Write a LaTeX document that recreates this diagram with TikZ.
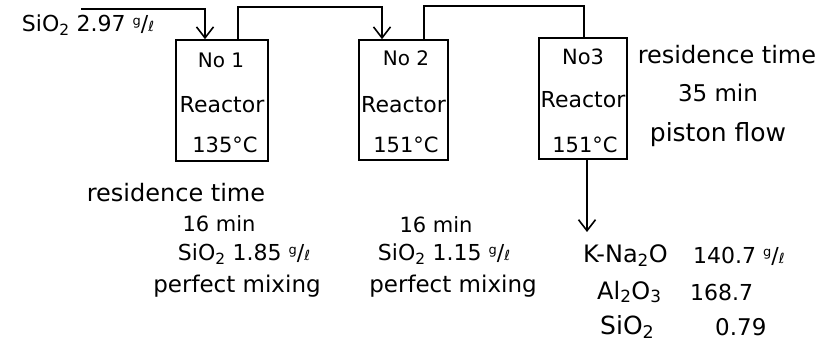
\documentclass[tikz,border=0pt]{standalone}
\usepackage{fontspec}
\setmainfont{DejaVu Sans}
\usetikzlibrary{arrows.meta}
\newcommand{\gpl}{\raisebox{0.28em}{\fontsize{13}{13}\selectfont g}/{\fontsize{14}{14}\selectfont ℓ}}
\newcommand{\fs}[1]{\fontsize{#1}{#1}\selectfont}
\begin{document}
\begin{tikzpicture}[x=1pt,y=-1pt,
  reactor/.style={draw, line width=1.6pt, inner sep=0pt},
  lbl/.style={font=\fs{23}, inner sep=0pt},
  flow/.style={line width=1.6pt},
  arr/.style={flow, -{Straight Barb[length=11pt,width=17pt,line width=1.6pt]}}]
\useasboundingbox (0,0) rectangle (838,347);
% reactors
\node[reactor, minimum width=92pt, minimum height=121pt] (b1) at (222,100.5) {};
\node[reactor, minimum width=89pt, minimum height=120pt] (b2) at (403.5,100) {};
\node[reactor, minimum width=88pt, minimum height=121pt] (b3) at (583,98.5) {};
% reactor texts
\node[lbl, font=\fs{20}] (b1a) at (221,60) {No 1};
\node[lbl, font=\fs{22}] (b1b) at (222,105) {Reactor};
\node[lbl, font=\fs{21}] (b1c) at (225,145) {135°C};
\node[lbl, font=\fs{20}] (b2a) at (406,58) {No 2};
\node[lbl, font=\fs{22}] (b2b) at (403.5,105) {Reactor};
\node[lbl, font=\fs{21}] (b2c) at (406,145) {151°C};
\node[lbl, font=\fs{21}] (b3a) at (583,57) {No3};
\node[lbl, font=\fs{22}] (b3b) at (583,100) {Reactor};
\node[lbl, font=\fs{21}] (b3c) at (585,145) {151°C};
% connectors
\coordinate (in) at (81,9);
\coordinate (i1) at ([xshift=-17pt]b1.north);
\draw[arr] (in) -| (i1);
\coordinate (o1) at ([xshift=16pt]b1.north);
\coordinate (i2) at ([xshift=-21.5pt]b2.north);
\coordinate (top1) at (382,7);
\draw[arr] (o1) |- (top1) -| (i2);
\coordinate (o2) at ([xshift=20.5pt]b2.north);
\coordinate (i3) at ([xshift=1pt]b3.north);
\coordinate (top2) at (584,6);
\draw[flow] (o2) |- (top2) -| (i3);
\coordinate (o3) at ([xshift=4pt]b3.south);
\coordinate (out) at (587,232);
\draw[arr] (o3) -- (out);
% feed
\node[lbl, font=\fs{22}] (feed) at (88,25) {SiO\textsubscript{2} 2.97 \gpl};
% right of reactor 3
\node[lbl, font=\fs{24}] (r3t1) at (727,55) {residence time};
\node[lbl, font=\fs{23}] (r3t2) at (718,93) {35 min};
\node[lbl, font=\fs{25}] (r3t3) at (718,135) {piston flow};
% below reactor 1
\node[lbl, font=\fs{24}] (r1t1) at (176,193) {residence time};
\node[lbl, font=\fs{21}] (r1t2) at (219,224) {16 min};
\node[lbl, font=\fs{22}] (r1t3) at (244,254) {SiO\textsubscript{2} 1.85 \gpl};
\node[lbl, font=\fs{23}] (r1t4) at (237,286) {perfect mixing};
% below reactor 2
\node[lbl, font=\fs{21}] (r2t1) at (436,225) {16 min};
\node[lbl, font=\fs{22}] (r2t2) at (444,254) {SiO\textsubscript{2} 1.15 \gpl};
\node[lbl, font=\fs{23}] (r2t3) at (453,286) {perfect mixing};
% product
\node[lbl, anchor=west, font=\fs{24}] (p1n) at (583,256) {K-Na\textsubscript{2}O};
\node[lbl, anchor=west, font=\fs{22}] (p1v) at (693,256) {140.7 \gpl};
\node[lbl, anchor=west, font=\fs{24}] (p2n) at (597,292) {Al\textsubscript{2}O\textsubscript{3}};
\node[lbl, anchor=west, font=\fs{22}] (p2v) at (690,292) {168.7};
\node[lbl, anchor=west, font=\fs{25}] (p3n) at (600,327) {SiO\textsubscript{2}};
\node[lbl, anchor=west, font=\fs{23}] (p3v) at (715,327) {0.79};
\end{tikzpicture}
\end{document}
